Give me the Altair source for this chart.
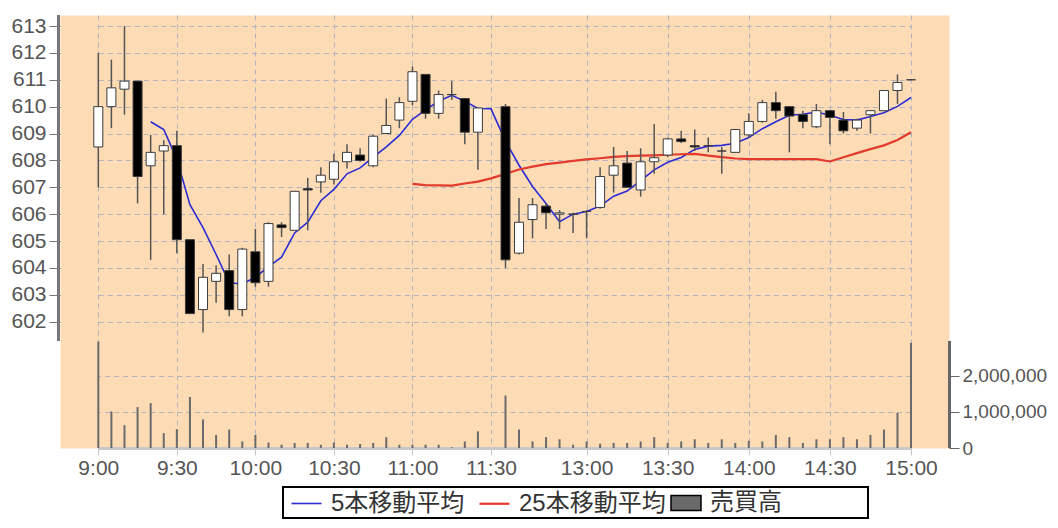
import altair as alt
import pandas as pd

# ---------------- data ----------------
MORNING_TIMES = ["9:00", "9:05", "9:10", "9:15", "9:20", "9:25", "9:30", "9:35", "9:40", "9:45",
                 "9:50", "9:55", "10:00", "10:05", "10:10", "10:15", "10:20", "10:25", "10:30", "10:35",
                 "10:40", "10:45", "10:50", "10:55", "11:00", "11:05", "11:10", "11:15", "11:20", "11:25"]
AFTERNOON_TIMES = ["12:30", "12:35", "12:40", "12:45", "12:50", "12:55", "13:00", "13:05", "13:10", "13:15",
                   "13:20", "13:25", "13:30", "13:35", "13:40", "13:45", "13:50", "13:55", "14:00", "14:05",
                   "14:10", "14:15", "14:20", "14:25", "14:30", "14:35", "14:40", "14:45", "14:50", "14:55",
                   "15:00"]

OPEN = [608.5, 610.0, 610.65, 610.95, 607.8, 608.35, 608.55, 605.05, 602.45, 603.5,
        603.9, 602.45, 604.6, 603.5, 605.6, 605.4, 606.95, 607.2, 607.3, 607.95,
        608.2, 607.8, 609.0, 609.5, 610.2, 611.2, 609.75, 610.45, 610.3, 609.05,
        610.0, 604.55, 605.8, 606.3, 606.0, 606.0, 606.1, 606.25, 607.45, 607.9,
        606.9, 607.95, 608.2, 608.8, 608.55, 608.55, 608.35, 608.3, 608.95, 609.45,
        610.15, 610.0, 609.7, 609.25, 609.85, 609.5, 609.2, 609.7, 609.85, 610.6,
        611.0]
HIGH = [612.0, 611.75, 613.0, 610.95, 608.95, 608.75, 609.1, 605.05, 604.15, 604.1,
        604.5, 604.75, 605.45, 605.7, 605.7, 606.85, 607.35, 607.75, 608.25, 608.6,
        608.45, 608.95, 610.3, 610.35, 611.5, 611.2, 610.6, 610.95, 610.3, 609.95,
        610.1, 606.6, 606.6, 606.4, 606.15, 606.05, 606.15, 607.75, 608.5, 608.35,
        608.45, 609.35, 608.85, 609.1, 609.15, 608.85, 608.5, 609.15, 609.75, 610.25,
        610.55, 610.0, 609.85, 610.1, 609.85, 609.8, 609.55, 609.85, 610.6, 611.2,
        611.0]
LOW = [607.0, 609.2, 609.7, 606.4, 604.3, 606.0, 604.55, 602.3, 601.6, 602.7,
       602.2, 602.2, 603.3, 603.3, 605.15, 605.4, 605.4, 606.8, 607.1, 607.7,
       607.95, 607.75, 609.0, 609.2, 610.05, 609.55, 609.55, 610.25, 608.6, 607.65,
       604.0, 604.5, 605.1, 605.45, 605.45, 605.3, 605.1, 606.2, 606.8, 607.0,
       606.65, 607.5, 608.12, 608.65, 608.35, 608.3, 607.5, 608.3, 608.85, 609.4,
       609.55, 608.3, 609.2, 609.2, 608.6, 609.0, 609.1, 609.0, 609.85, 610.1,
       611.0]
CLOSE = [610.0, 610.7, 610.95, 607.4, 608.3, 608.55, 605.05, 602.3, 603.65, 603.8,
         602.45, 604.7, 603.45, 605.65, 605.5, 606.85, 606.9, 607.45, 607.95, 608.3,
         608.0, 608.9, 609.3, 610.15, 611.3, 609.75, 610.45, 610.45, 609.05, 609.95,
         604.3, 605.7, 606.35, 606.05, 606.05, 606.0, 606.1, 607.4, 607.8, 607.0,
         607.95, 608.1, 608.8, 608.7, 608.5, 608.55, 608.35, 609.15, 609.45, 610.15,
         609.85, 609.65, 609.45, 609.85, 609.6, 609.1, 609.5, 609.85, 610.6, 610.9,
         611.0]
VOLUME = [2940000, 1010000, 630000, 1130000, 1240000, 410000, 520000, 1410000, 790000, 360000,
          510000, 180000, 360000, 150000, 90000, 140000, 140000, 90000, 150000, 90000,
          110000, 140000, 300000, 90000, 90000, 90000, 90000, 20000, 180000, 460000,
          1450000, 510000, 180000, 300000, 240000, 90000, 180000, 120000, 140000, 140000,
          180000, 300000, 140000, 180000, 240000, 140000, 240000, 140000, 200000, 180000,
          360000, 300000, 140000, 240000, 240000, 300000, 240000, 360000, 510000, 970000,
          2910000]

MA5_TIMES = MORNING_TIMES[4:] + ["11:30"] + AFTERNOON_TIMES
MA5 = [609.44, 609.15, 608.05, 606.35, 605.5, 604.5, 603.45, 603.4, 603.65, 604.05,
       604.4, 605.3, 605.7, 606.5, 606.92, 607.5, 607.72, 608.12, 608.5, 608.93,
       609.53, 609.88, 610.2, 610.42, 610.2, 609.93,
       609.92,
       608.72, 607.82, 607.03, 606.4, 605.72, 606.0, 606.1, 606.3, 606.67, 606.86,
       607.25, 607.65, 607.93, 608.11, 608.41, 608.53, 608.56, 608.64, 608.85, 609.18,
       609.44, 609.68, 609.72, 609.8, 609.68, 609.52, 609.5, 609.63, 609.77, 610.01,
       610.34]
MA25_TIMES = MORNING_TIMES[24:] + ["11:30"] + AFTERNOON_TIMES
MA25 = [607.13, 607.08, 607.07, 607.06, 607.14, 607.21,
        607.33,
        607.5, 607.66, 607.77, 607.86, 607.92, 607.98, 608.04, 608.08, 608.13, 608.16,
        608.18, 608.19, 608.21, 608.23, 608.24, 608.18, 608.12, 608.07, 608.05, 608.05,
        608.05, 608.05, 608.05, 608.05, 607.96, 608.12, 608.27, 608.42, 608.56, 608.76,
        609.05]

TICK_LABELS = ["9:00", "9:30", "10:00", "10:30", "11:00", "11:30",
               "13:00", "13:30", "14:00", "14:30", "15:00"]
PRICE_TICKS = [602, 603, 604, 605, 606, 607, 608, 609, 610, 611, 612, 613]
VOLUME_TICKS = [0, 1000000, 2000000]
SERIES_MA = ["5本移動平均", "25本移動平均"]
SERIES_VOL = "売買高"

# ---------------- helpers ----------------
def minutes(s):
    h, m = s.split(":")
    return int(h) * 60 + int(m) - 540


times = MORNING_TIMES + AFTERNOON_TIMES
candles = pd.DataFrame({
    "time": times,
    "t": [minutes(s) for s in times],
    "open": OPEN, "high": HIGH, "low": LOW, "close": CLOSE, "vol": VOLUME,
})
candles["dir"] = ["up" if c >= o else "down" for o, c in zip(OPEN, CLOSE)]
candles["zero"] = 0
candles["series"] = SERIES_VOL

ma = pd.DataFrame({
    "t": [minutes(s) for s in MA5_TIMES] + [minutes(s) for s in MA25_TIMES],
    "value": MA5 + MA25,
    "series": [SERIES_MA[0]] * len(MA5) + [SERIES_MA[1]] * len(MA25),
})

FONT = "Liberation Sans, Arial, sans-serif"
LFONT = "Liberation Sans, Noto Sans CJK JP, sans-serif"
GRID = "#b4b4bc"
LABEL = "#555555"

label_expr = " : ".join(f"datum.value == {minutes(l)} ? '{l}'" for l in TICK_LABELS) + " : ''"

# piecewise x scale: morning session, lunch break, afternoon session
x_scale = alt.Scale(domain=[0, 150, 210, 360], range=[38.3, 431, 445.5, 851],
                    nice=False, zero=False, padding=0)
x_axis = alt.Axis(values=[minutes(l) for l in TICK_LABELS], labelExpr=label_expr, title=None,
                  grid=True, gridDash=[5, 4], gridColor=GRID, domainColor="#c8c8c8", domainWidth=3,
                  tickColor="#c8c8c8", tickSize=7, labelPadding=2, labelFontSize=21, labelFont=FONT,
                  labelColor=LABEL, labelFlush=False, labelOverlap=False)
X = alt.X("t:Q", scale=x_scale, axis=x_axis)

price_scale = alt.Scale(domain=[597.3, 613.41], nice=False, zero=False, padding=0)
price_axis = alt.Axis(orient="left", values=PRICE_TICKS, format="d", title=None, grid=True,
                      gridDash=[5, 4], gridColor=GRID, domain=False, tickColor="#777777", tickSize=11,
                      labelPadding=3, labelFontSize=21, labelFont=FONT, labelColor=LABEL,
                      labelFlush=False, labelOverlap=False)
vol_scale = alt.Scale(domain=[0, 11960000], nice=False, zero=True, padding=0)
vol_axis = alt.Axis(orient="right", values=VOLUME_TICKS, labelExpr="format(datum.value, ',d')",
                    title=None, grid=True,
                    gridDash=[5, 4], gridColor=GRID, domain=False, tickColor="#666666", tickSize=10,
                    labelPadding=3, labelFontSize=19, labelFont=FONT, labelColor=LABEL,
                    labelFlush=False, labelOverlap=False)

# ---------------- layers ----------------
volume = alt.Chart(candles).mark_bar(size=2).encode(
    x=X,
    y=alt.Y("vol:Q", scale=vol_scale, axis=vol_axis),
    y2="zero:Q",
    fill=alt.Fill("series:N", scale=alt.Scale(domain=[SERIES_VOL], range=["#6a6a6a"]),
                  legend=alt.Legend(title=None, orient="none", legendX=610, legendY=472,
                                    symbolType="M-1,-0.5H1V0.5H-1Z", symbolSize=900,
                                    symbolStrokeColor="#000000", symbolStrokeWidth=1.5,
                                    labelFontSize=24, labelFont=LFONT, labelColor="#333333",
                                    labelOffset=8, padding=0, labelLimit=400, zindex=1)),
)

ma_lines = alt.Chart(ma).mark_line().encode(
    x=X,
    y=alt.Y("value:Q", scale=price_scale, axis=price_axis),
    stroke=alt.Stroke("series:N", scale=alt.Scale(domain=SERIES_MA, range=["#2b2bd4", "#e23a2c"]),
                      legend=alt.Legend(title=None, orient="none", legendX=230, legendY=472,
                                        direction="horizontal", columns=2, symbolType="stroke",
                                        symbolSize=900, symbolStrokeWidth=2, labelFontSize=24,
                                        labelFont=LFONT, labelColor="#333333", labelOffset=8,
                                        columnPadding=10, padding=0, labelLimit=400, zindex=1)),
    strokeWidth=alt.StrokeWidth("series:N", scale=alt.Scale(domain=SERIES_MA, range=[1.6, 2.2]),
                                legend=None),
)

wicks = alt.Chart(candles).mark_rule(color="#555555", strokeWidth=1.5).encode(
    x=X,
    y=alt.Y("low:Q", scale=price_scale, axis=price_axis),
    y2="high:Q",
)

bodies = alt.Chart(candles).mark_bar(size=9, stroke="#3c3c3c", strokeWidth=1).encode(
    x=X,
    y=alt.Y("open:Q", scale=price_scale, axis=price_axis),
    y2="close:Q",
    color=alt.Color("dir:N", scale=alt.Scale(domain=["up", "down"], range=["#ffffff", "#000000"]),
                    legend=None),
)

price = alt.layer(ma_lines, wicks, bodies)

one = pd.DataFrame({"k": [0]})
left_line = alt.Chart(one).mark_rule(color="#777777", strokeWidth=3).encode(
    x=alt.value(-1.5), y=alt.value(0), y2=alt.value(326))
right_line = alt.Chart(one).mark_rule(color="#666666", strokeWidth=3).encode(
    x=alt.value(889.5), y=alt.value(326), y2=alt.value(433))
legend_box = alt.Chart(one).mark_rect(fill="#ffffff", stroke="#000000", strokeWidth=2).encode(
    x=alt.value(223), x2=alt.value(808), y=alt.value(472), y2=alt.value(503))

chart = alt.layer(volume, price, left_line, right_line, legend_box).resolve_scale(
    y="independent"
).properties(
    width=889, height=433,
    autosize=alt.AutoSizeParams(type="none"),
    padding={"left": 52, "top": 7, "right": 101, "bottom": 72},
).configure_view(fill="#fddcb5", stroke="transparent")

chart.save("out.html", embed_options={"renderer": "svg", "actions": False})
